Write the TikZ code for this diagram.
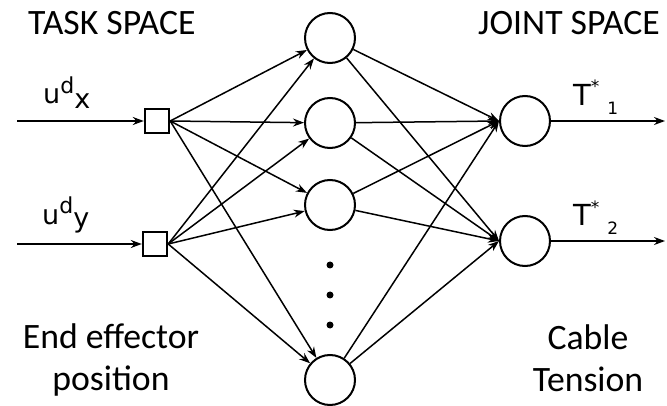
\documentclass[tikz,border=0pt]{standalone}
\usepackage{fontspec}
\setmainfont{Carlito}
\newfontfamily\dejavu{DejaVu Sans}
\usetikzlibrary{arrows.meta}
\begin{document}
\begin{tikzpicture}[x=1pt,y=-1pt,
  neuron/.style={circle,draw,line width=2pt,minimum size=50pt,inner sep=0pt},
  inbox/.style={rectangle,draw,line width=2.4pt,minimum size=24pt,inner sep=0pt},
  conn/.style={line width=1.5pt,-{Stealth[length=11pt,width=8pt]}},
  heading/.style={font=\fontsize{35.7}{42}\selectfont,inner sep=0pt},
  sym/.style={font=\dejavu\fontsize{27}{27}\selectfont,inner sep=0pt},
  dotmark/.style={circle,fill,minimum size=7pt,inner sep=0pt}]
\useasboundingbox (0,0) rectangle (667,406);
\fill[white] (0,0) rectangle (667,406);
% headings
\node[heading,anchor=base west] (task) at (28,35) {TASK SPACE};
\node[heading,anchor=base west] (joint) at (478,35) {JOINT SPACE};
\node[heading,align=center,anchor=base] (ee) at (111,390) {End effector\\position};
\node[heading,align=center,anchor=base] (ct) at (588,391) {Cable\\Tension};
% inputs
\node[inbox] (s1) at (157,121) {};
\node[inbox] (s2) at (155,244) {};
\coordinate (in1) at (17,121);
\coordinate (in2) at (17,244);
\node[sym,anchor=base west] (ux) at (43,104) {u\raisebox{10pt}{\fontsize{22}{22}\selectfont d}\raisebox{-5pt}{x}};
\node[sym,anchor=base west] (uy) at (42,225) {u\raisebox{11pt}{\fontsize{22}{22}\selectfont d}\raisebox{-3pt}{y}};
% hidden
\node[neuron] (h1) at (330,38) {};
\node[neuron] (h2) at (330,123) {};
\node[neuron] (h3) at (330,205) {};
\node[neuron] (h4) at (330,380) {};
\node[dotmark] (d1) at (330,265) {};
\node[dotmark] (d2) at (330,295) {};
\node[dotmark] (d3) at (330,325) {};
% outputs
\node[neuron] (o1) at (525,121) {};
\node[neuron] (o2) at (525,241) {};
\coordinate (out1) at (665,121);
\coordinate (out2) at (665,241);
\node[sym,font=\dejavu\fontsize{29}{29}\selectfont,anchor=base west] (t1) at (573,106) {T\raisebox{13pt}{\fontsize{17}{17}\selectfont *}\hspace{8pt}\raisebox{-9pt}{\fontsize{17}{17}\selectfont 1}};
\node[sym,font=\dejavu\fontsize{29}{29}\selectfont,anchor=base west] (t2) at (573,226) {T\raisebox{13pt}{\fontsize{17}{17}\selectfont *}\hspace{8pt}\raisebox{-9pt}{\fontsize{17}{17}\selectfont 2}};
% connectors
\draw[conn] (in1) -- (s1);
\draw[conn] (in2) -- (s2);
\foreach \s in {s1,s2}
  \foreach \h in {h1,h2,h3,h4}
    \draw[conn] (\s.east) -- (\h);
\foreach \h in {h1,h2,h3,h4}
  \foreach \o in {o1,o2}
    \draw[conn] (\h) -- (\o.west);
\draw[conn] (o1) -- (out1);
\draw[conn] (o2) -- (out2);
\end{tikzpicture}
\end{document}
